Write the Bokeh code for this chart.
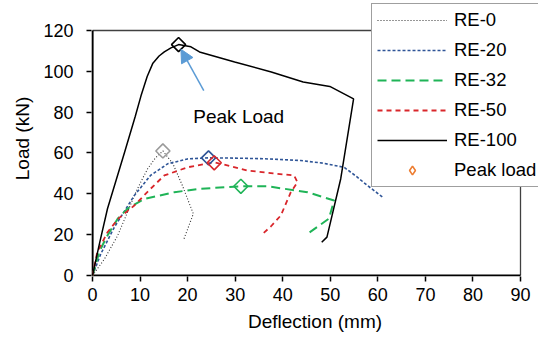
from bokeh.plotting import figure
from bokeh.models import (Range1d, FixedTicker, Legend, LegendItem, Arrow, NormalHead,
                          ColumnDataSource, Label)
from bokeh.embed import file_html
from bokeh.resources import INLINE
import numpy as np

# ---------------- data ----------------
re0_x = [0, 2.5, 5.3, 7, 8.8, 10.2, 11.6, 13.2, 14.8, 16.9, 18.9, 21.2, 19.1]
re0_y = [0, 8, 19.6, 29, 39.2, 46, 52.3, 57.5, 61, 54.8, 44.1, 30.2, 17.1]

re20_x = [0, 1.75, 4.6, 8.8, 12.2, 15.8, 20, 24.4, 29.8, 36, 43.8, 48.5, 52.9, 55.5, 57.8, 61]
re20_y = [0, 10.6, 23.7, 39.2, 49, 54.7, 57.1, 57.6, 57.5, 57.2, 56.3, 55, 53, 48.5, 44.1, 38.4]

re32_x = [0, 1.5, 3, 5.3, 7.5, 10.9, 17.2, 22.8, 31.2, 36.8, 45.2, 50.8, 49.7, 45.2]
re32_y = [0, 12, 19, 27.8, 33, 37.5, 40.8, 42.5, 43.7, 43.7, 40.8, 36.7, 27.8, 20.4]

re50_x = [0, 1, 3.15, 5.5, 8.8, 12, 15.1, 20, 25.6, 32.6, 38, 42.4, 43.1, 41.7, 39.6, 37.5, 35.4]
re50_y = [0, 11.4, 21.2, 28, 34.3, 42, 49, 53, 55.5, 51.4, 50, 49, 45.7, 40.8, 29.4, 24, 19.6]

re100_x = [0, 1.5, 3.15, 6.7, 9, 10.2, 11.5, 12.7, 14, 15.1, 16.5, 18.1, 20.7, 22.5, 29.9,
           37.6, 44.3, 49.9, 54.9, 52.2, 49.3, 48.2]
re100_y = [0, 16, 32.7, 60, 78, 88, 97.5, 104, 107.5, 109.5, 111.5, 113.1, 112, 109.5, 104.6,
           99.7, 94.8, 92.6, 86.5, 47.4, 18.8, 16.3]

peak_x = [14.8, 24.4, 31.2, 25.6, 18.1]
peak_y = [61.0, 57.6, 43.7, 55.2, 113.1]
peak_colors = ["#9a9a9a", "#2f5597", "#1fb457", "#d9262b", "#000000"]

series_names = ["RE-0", "RE-20", "RE-32", "RE-50", "RE-100"]
peak_legend_label = "Peak load"
x_ticks = [0, 10, 20, 30, 40, 50, 60, 70, 80, 90]
y_ticks = [0, 20, 40, 60, 80, 100, 120]

annot_text = "Peak Load"
annot_pos = (21.2, 78.1)
arrow_start = (23.4, 90.6)
arrow_end = (18.6, 110.8)

FONT = "Liberation Sans"

# axis extents (the plot box spans the last ticks); the frame is made a little larger
x_lo, x_hi = x_ticks[0], x_ticks[-1]
y_lo, y_hi = y_ticks[0], y_ticks[-1]

p = figure(width=538, height=336, output_backend="svg", toolbar_location=None,
           x_range=Range1d(-0.21, 93.785), y_range=Range1d(-0.49, 134.69),
           min_border_left=91, min_border_right=0, min_border_top=0, min_border_bottom=60)
p.background_fill_color = "white"
p.border_fill_color = "white"
p.grid.visible = False
p.outline_line_color = None

for ax in (p.xaxis[0], p.yaxis[0]):
    ax.axis_line_color = None
    ax.major_tick_line_color = "black"
    ax.major_tick_line_width = 1.5
    ax.major_tick_out = 5
    ax.major_tick_in = 0
    ax.minor_tick_line_color = None
    ax.major_label_text_font = FONT
    ax.major_label_text_font_size = "18px"
    ax.major_label_text_color = "black"
    ax.axis_label_text_font = FONT
    ax.axis_label_text_font_size = "19px"
    ax.axis_label_text_font_style = "normal"
    ax.axis_label_text_color = "black"

p.xaxis.ticker = FixedTicker(ticks=x_ticks)
p.yaxis.ticker = FixedTicker(ticks=y_ticks)
p.xaxis.axis_label = "Deflection (mm)"
p.yaxis.axis_label = "Load (kN)"
p.xaxis.major_label_standoff = 6
p.yaxis.major_label_standoff = 13
p.xaxis.axis_label_standoff = 7
p.yaxis.axis_label_standoff = 7

# plot box: top and right borders, then the two axis lines
p.line([x_lo, x_hi, x_hi], [y_hi, y_hi, y_lo], line_color="#404040", line_width=1.3)
p.line([x_lo, x_hi], [y_lo, y_lo], line_color="black", line_width=2.2)
p.line([x_lo, x_lo], [y_lo, y_hi], line_color="black", line_width=2.2)

r0 = p.line(re0_x, re0_y, line_color="#303030", line_width=1.1, line_dash="1 2")
r20 = p.line(re20_x, re20_y, line_color="#2f5597", line_width=1.6, line_dash="3 2")
r32 = p.line(re32_x, re32_y, line_color="#1fb457", line_width=2, line_dash="9 5")
r50 = p.line(re50_x, re50_y, line_color="#d9262b", line_width=1.8, line_dash="5 4")
r100 = p.line(re100_x, re100_y, line_color="black", line_width=1.5)

p.scatter(peak_x, peak_y, marker="square", angle=np.pi / 4, size=10,
          fill_color="white", fill_alpha=0, line_color=peak_colors, line_width=1.6)

# legend-only renderer for the "Peak load" key (a single non-drawn NaN point)
leg_src = ColumnDataSource(data=dict(x=[np.nan], y=[np.nan]))
rpk = p.scatter("x", "y", source=leg_src, marker="diamond", size=12,
                fill_color="white", fill_alpha=0, line_color="#ed7d31", line_width=1.6)

p.add_layout(Arrow(end=NormalHead(size=13, fill_color="#5b9bd5", line_color="#5b9bd5"),
                   x_start=arrow_start[0], y_start=arrow_start[1],
                   x_end=arrow_end[0], y_end=arrow_end[1],
                   line_color="#5b9bd5", line_width=1.5))

p.add_layout(Label(x=annot_pos[0], y=annot_pos[1], text=annot_text, text_font=FONT,
                   text_font_size="19px", text_color="black", text_baseline="alphabetic"))

items = [LegendItem(label=n, renderers=[r]) for n, r in zip(series_names, [r0, r20, r32, r50, r100])]
items.append(LegendItem(label=peak_legend_label, renderers=[rpk]))
legend = Legend(items=items, location=(280, 89), margin=0, padding=5, spacing=8,
                glyph_width=70, glyph_height=22, label_height=22, label_standoff=7,
                label_text_font=FONT, label_text_font_size="18.5px", label_text_color="black",
                border_line_color="#404040", border_line_width=1.5,
                background_fill_color="white", background_fill_alpha=1)
p.add_layout(legend)

open("out.html", "w").write(file_html(p, INLINE))
